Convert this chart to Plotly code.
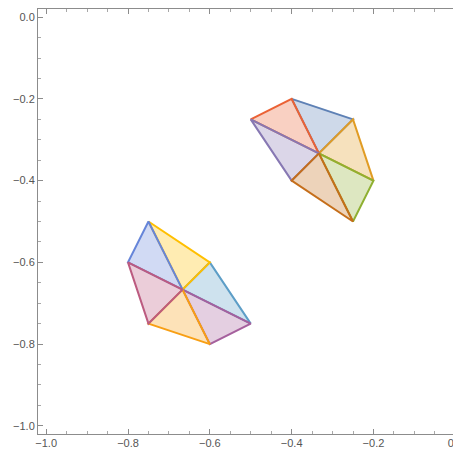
import plotly.graph_objects as go

# ---- data ----
upper_center = (-1/3, -1/3)
upper_rim_x = [-0.4, -0.25, -0.2, -0.25, -0.4, -0.5]
upper_rim_y = [-0.2, -0.25, -0.4, -0.5, -0.4, -0.25]
upper_order = [0, 1, 2, 5, 4, 3]          # sector drawing order
upper_colors = ["#5E81B5", "#E19C24", "#8FB032", "#EB6235", "#8778B3", "#C56E1A"]

lower_center = (-2/3, -2/3)
lower_rim_x = [-0.75, -0.6, -0.5, -0.6, -0.75, -0.8]
lower_rim_y = [-0.5, -0.6, -0.75, -0.8, -0.75, -0.6]
lower_order = [1, 0, 2, 5, 3, 4]
lower_colors = ["#5D9EC7", "#FFBF00", "#A5609D", "#6685D9", "#F89F13", "#BC5B80"]

x_ticks = [-1.0, -0.8, -0.6, -0.4, -0.2, 0.0]
y_ticks = [0.0, -0.2, -0.4, -0.6, -0.8, -1.0]


def rgba(hexc, a):
    h = hexc.lstrip("#")
    r, g, b = int(h[0:2], 16), int(h[2:4], 16), int(h[4:6], 16)
    return f"rgba({r},{g},{b},{a})"


fig = go.Figure()


def add_group(center, rx, ry, order, colors):
    n = len(rx)
    for k, s in enumerate(order):
        j = (s + 1) % n
        xs = [center[0], rx[s], rx[j], center[0]]
        ys = [center[1], ry[s], ry[j], center[1]]
        c = colors[k]
        fig.add_trace(go.Scatter(
            x=xs, y=ys, mode="lines", fill="toself",
            fillcolor=rgba(c, 0.3),
            line=dict(color=c, width=2),
            hoverinfo="skip", showlegend=False))


add_group(upper_center, upper_rim_x, upper_rim_y, upper_order, upper_colors)
add_group(lower_center, lower_rim_x, lower_rim_y, lower_order, lower_colors)

axis_common = dict(
    showgrid=False, zeroline=False,
    showline=True, linecolor="#8c8c8c", linewidth=1,
    mirror="ticks", ticks="inside", ticklen=5, tickcolor="#8c8c8c", tickwidth=1,
    minor=dict(dtick=0.05, ticks="inside", ticklen=3, tickcolor="#a8a8a8", tickwidth=1),
    tickfont=dict(family="Liberation Sans, Arial, sans-serif", size=11, color="#555555"),
    tickformat=".1f", automargin=False, ticklabeloverflow="allow",
)

# page body has an 8px default margin, so the figure is sized to compensate
fig.update_layout(
    width=453, height=442,
    margin=dict(l=30, r=0, t=1, b=16),
    plot_bgcolor="white", paper_bgcolor="white",
    xaxis=dict(range=[-1.02, 0.014], tickvals=x_ticks, ticklabelstandoff=-1, **axis_common),
    yaxis=dict(range=[-1.02, 0.02], tickvals=y_ticks, **axis_common),
)

fig.write_html("out.html")
